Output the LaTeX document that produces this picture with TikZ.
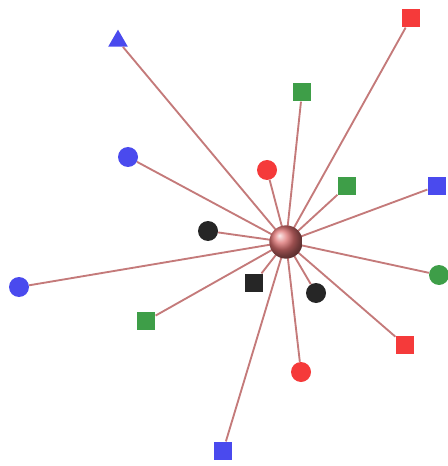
\documentclass[tikz,border=0pt]{standalone}
\usetikzlibrary{shapes.geometric}
\definecolor{lnk}{HTML}{C47A7A}
\definecolor{cb}{HTML}{4A4AEE}
\definecolor{cr}{HTML}{F53A3A}
\definecolor{cg}{HTML}{3E9E48}
\definecolor{ck}{HTML}{262626}
\definecolor{hub}{HTML}{DC7070}
\tikzset{
  sq/.style={rectangle, minimum size=14pt, inner sep=0pt, fill=#1},
  ci/.style={circle, minimum size=15pt, inner sep=0pt, fill=#1},
  tri/.style={regular polygon, regular polygon sides=3, minimum size=17pt, inner sep=0pt, fill=#1},
  link/.style={draw=lnk, line width=1.4pt},
}
\begin{document}
\begin{tikzpicture}[x=0.75pt,y=-0.75pt]
\useasboundingbox (0,0) rectangle (448,466);
\coordinate (c) at (286,242);
\node[tri=cb] (n1) at (118,41) {};
\node[sq=cr] (n2) at (411,18) {};
\node[sq=cg] (n3) at (302,92) {};
\node[ci=cb] (n4) at (128,157) {};
\node[ci=cr] (n5) at (267,170) {};
\node[sq=cg] (n6) at (347,186) {};
\node[sq=cb] (n7) at (437,186) {};
\node[ci=ck] (n8) at (208,231) {};
\node[ci=cb] (n9) at (19,287) {};
\node[sq=ck] (n10) at (254,283) {};
\node[ci=ck] (n11) at (316,293) {};
\node[ci=cg] (n12) at (439,275) {};
\node[sq=cg] (n13) at (146,321) {};
\node[sq=cr] (n14) at (405,345) {};
\node[ci=cr] (n15) at (301,372) {};
\node[sq=cb] (n16) at (223,451) {};
\foreach \i in {1,...,16} {\draw[link] (c) -- (n\i);}
\node[circle, minimum size=25pt, inner sep=0pt, ball color=hub] (hub) at (c) {};
\end{tikzpicture}
\end{document}
